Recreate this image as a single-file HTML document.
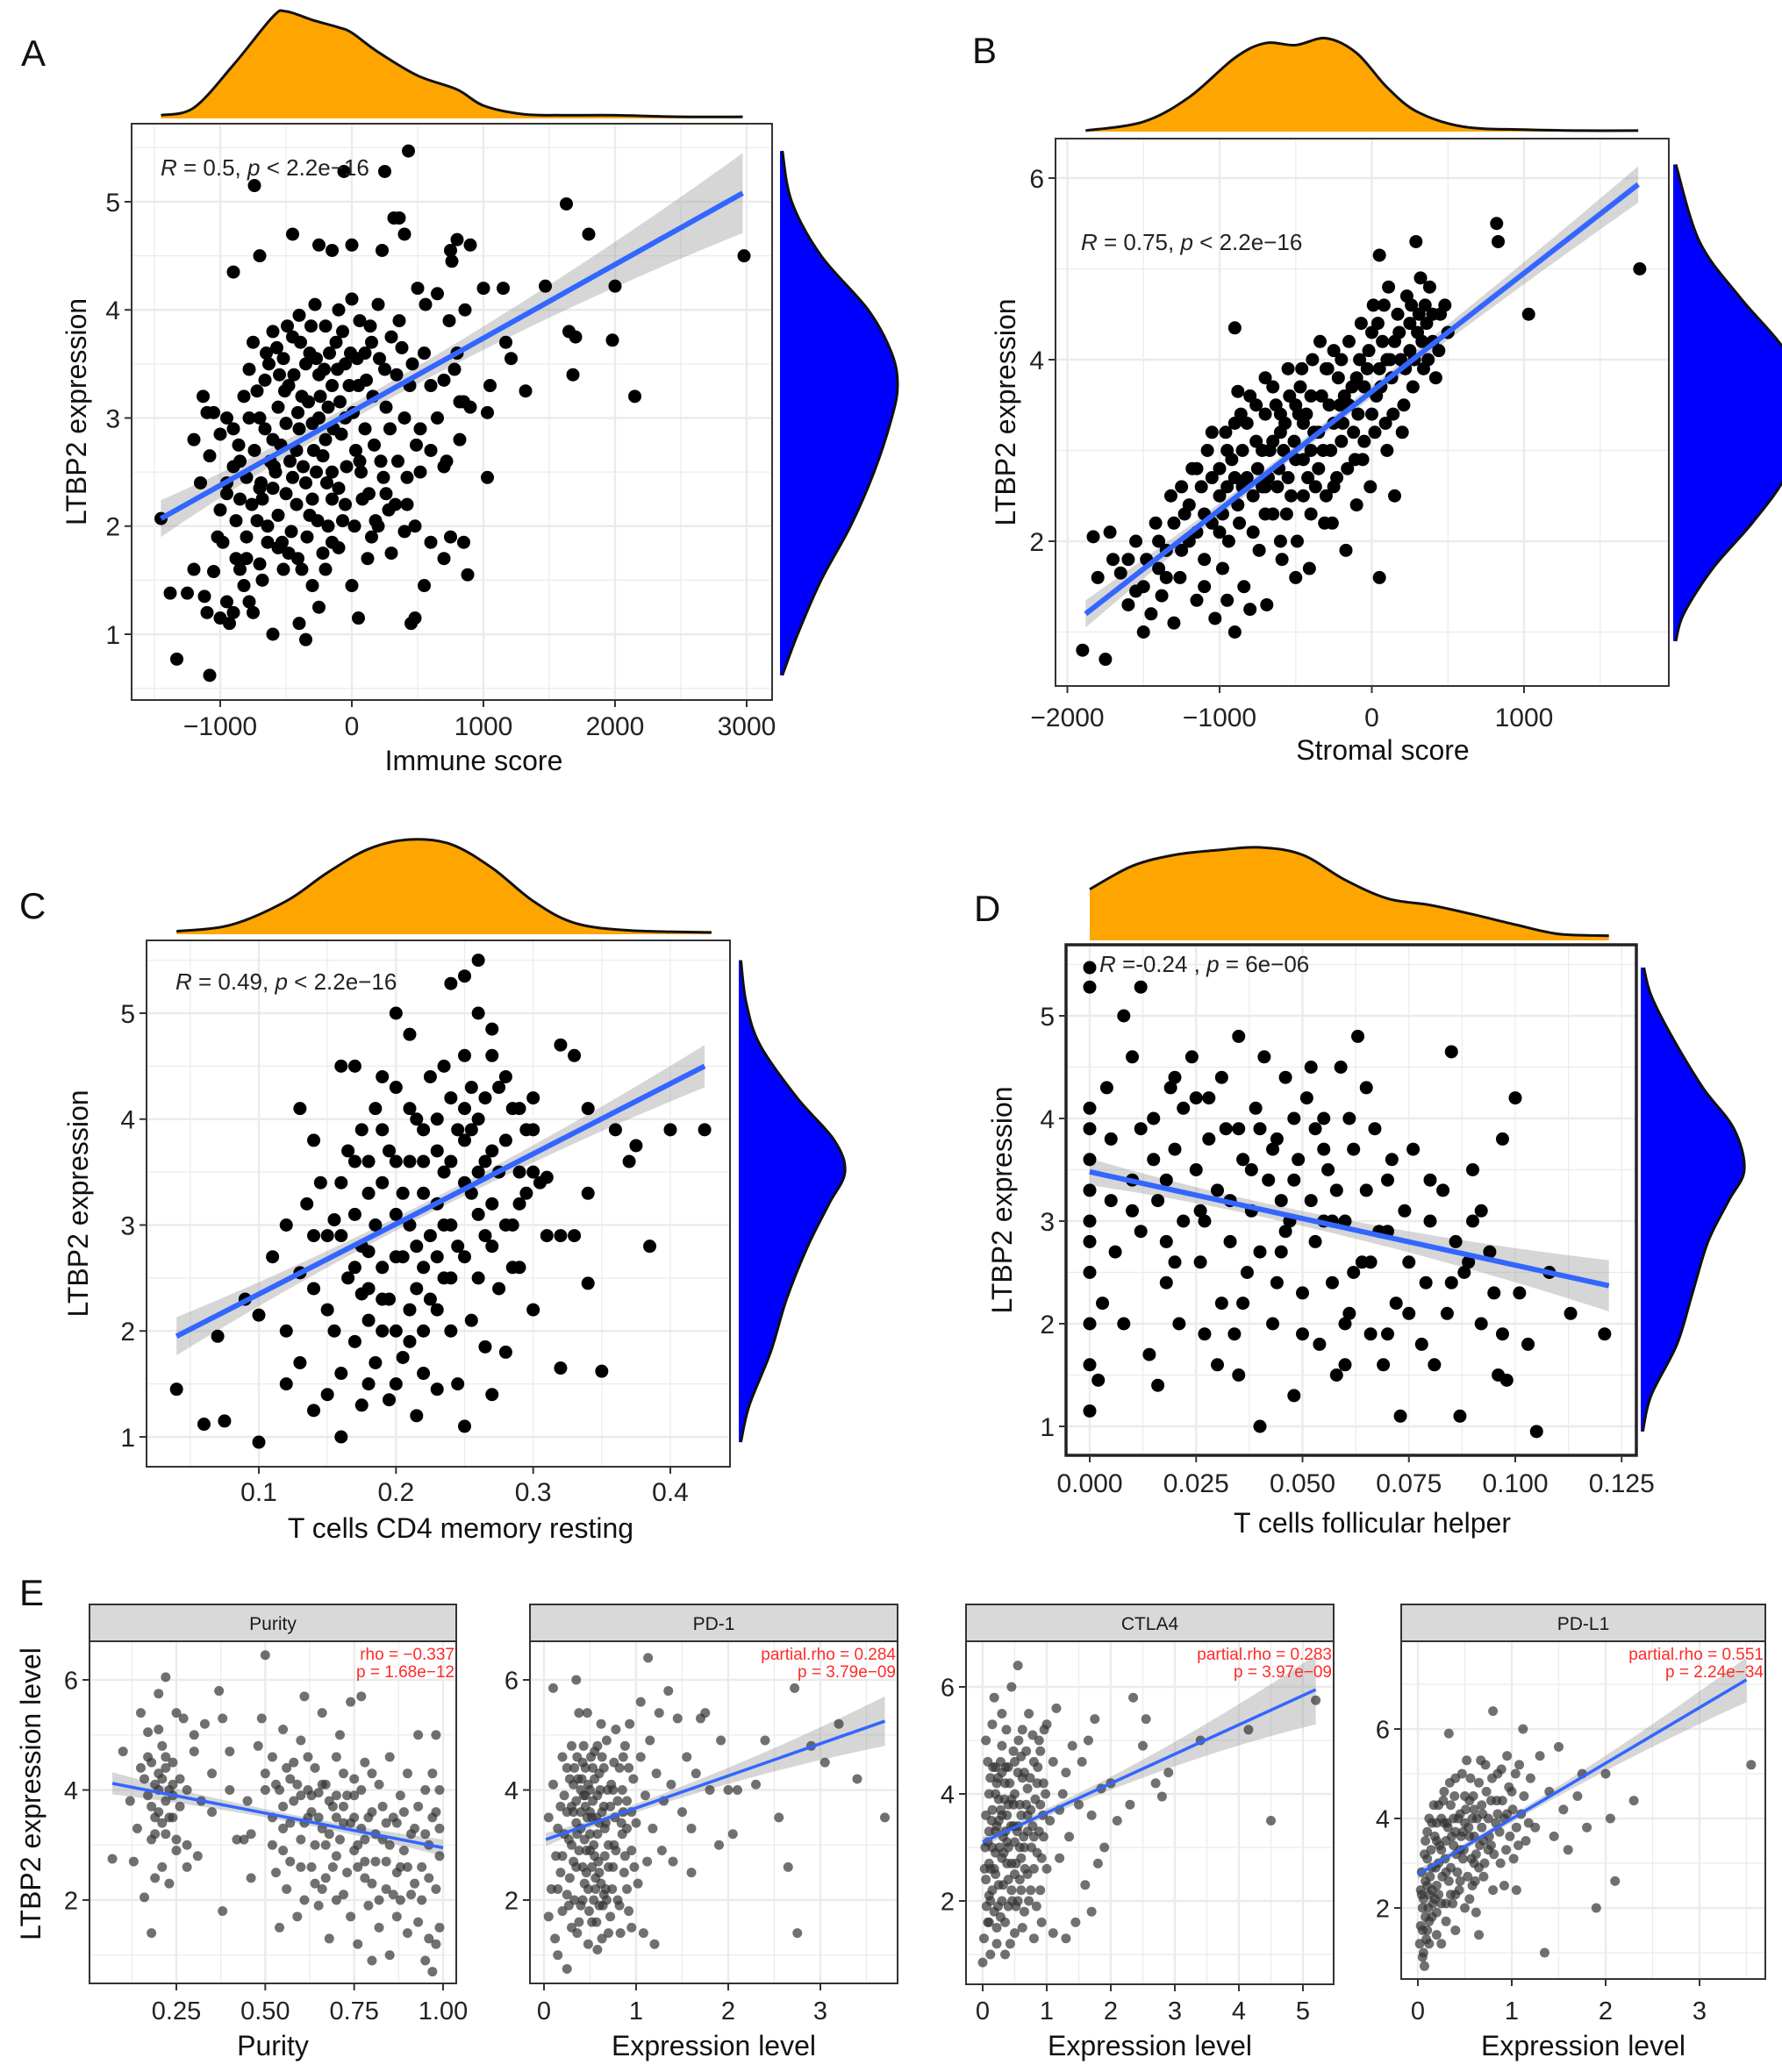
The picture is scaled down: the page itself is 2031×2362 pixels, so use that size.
<!DOCTYPE html>
<html><head><meta charset="utf-8"><title>LTBP2 correlations</title>
<style>html,body{margin:0;padding:0;background:#fff}svg{display:block}</style></head>
<body>
<svg id="fig" xmlns="http://www.w3.org/2000/svg" width="2031" height="2362" viewBox="0 0 2031 2362" font-family="Liberation Sans, Arial, sans-serif"></svg>
<script>
// ---------- DATA ----------
const ptsA=[[-1450,2.07],[-1330,0.77],[-1080,0.62],[-1380,1.38],[-1250,1.38],[-1100,1.2],[-1120,1.35],[-1000,1.15],[-1050,1.58],[-950,1.3],[-930,1.1],[-900,1.2],[-880,1.7],[-850,1.6],[-820,1.45],[-800,1.7],[-780,1.3],[-750,1.2],[-700,1.65],[-680,1.5],[-600,1.0],[-560,1.8],[-520,1.6],[-480,1.75],[-400,1.1],[-350,0.95],[-300,1.45],[-250,1.25],[-200,1.6],[-150,1.85],[-100,1.8],[0,1.45],[50,1.15],[150,1.9],[200,2.0],[300,1.75],[400,1.95],[450,1.1],[480,1.15],[550,1.45],[600,1.85],[700,1.7],[750,1.9],[850,1.85],[880,1.55],[-1200,2.8],[-1130,3.2],[-1100,3.05],[-1050,3.05],[-1000,2.85],[-1080,2.65],[-950,2.4],[-900,2.55],[-860,2.75],[-820,3.2],[-780,3.45],[-750,3.7],[-700,3.0],[-660,3.35],[-620,2.6],[-600,3.8],[-560,3.1],[-520,3.55],[-500,2.95],[-480,3.3],[-450,3.75],[-420,2.7],[-400,3.95],[-380,3.2],[-350,2.4],[-320,3.6],[-300,2.95],[-280,4.05],[-250,3.4],[-220,2.65],[-200,3.85],[-180,3.1],[-150,2.5],[-120,3.7],[-100,4.0],[-80,2.85],[-50,3.5],[-20,3.3],[0,4.1],[30,2.7],[60,3.9],[100,3.6],[130,2.3],[160,3.2],[200,4.05],[220,2.6],[250,3.45],[300,3.75],[330,2.2],[360,3.9],[400,3.0],[420,2.45],[460,3.5],[500,4.2],[520,2.9],[560,4.05],[600,3.3],[650,4.15],[700,3.35],[720,2.6],[760,4.45],[800,3.6],[820,2.8],[860,4.0],[900,3.1],[-900,4.35],[-700,4.5],[-450,4.7],[-250,4.6],[-150,4.55],[0,4.6],[230,4.55],[320,4.85],[360,4.85],[400,4.7],[750,4.55],[800,4.65],[900,4.6],[-740,5.15],[-60,5.28],[250,5.28],[430,5.47],[1000,4.2],[1030,2.45],[1030,3.05],[1050,3.3],[1150,4.2],[1170,3.7],[1210,3.55],[1320,3.25],[1470,4.22],[1630,4.98],[1650,3.8],[1680,3.4],[1700,3.75],[1800,4.7],[1980,3.72],[2000,4.22],[2150,3.2],[2980,4.5],[-1000,2.15],[-950,2.3],[-880,2.05],[-850,2.25],[-800,1.9],[-760,2.2],[-720,2.05],[-680,2.25],[-640,2.0],[-600,2.35],[-560,2.1],[-500,2.3],[-460,1.95],[-420,2.2],[-380,1.6],[-340,1.9],[-300,2.25],[-260,2.05],[-220,1.75],[-150,2.25],[-100,2.35],[-50,2.2],[20,2.0],[80,2.25],[120,1.7],[180,2.05],[240,2.45],[280,2.15],[350,2.6],[420,2.2],[480,2.0],[520,2.5],[550,3.6],[600,2.7],[650,3.0],[700,2.55],[740,3.9],[780,3.45],[820,3.15],[850,3.15],[-650,3.6],[-550,3.4],[-350,3.5],[-250,3.0],[-150,3.3],[-50,3.0],[50,3.3],[150,3.7],[-600,2.8],[-400,2.9],[-200,2.8],[100,2.9],
[-950,3.0],[-900,2.9],[-850,2.6],[-800,2.45],[-780,3.0],[-740,2.7],[-720,3.25],[-690,2.4],[-660,2.9],[-630,3.5],[-590,2.55],[-570,3.65],[-540,2.75],[-510,3.25],[-490,3.85],[-470,2.6],[-440,3.4],[-410,3.05],[-390,3.7],[-370,2.55],[-330,3.15],[-310,3.85],[-290,2.7],[-270,3.55],[-240,3.2],[-210,3.45],[-190,2.4],[-170,3.6],[-140,2.9],[-110,3.45],[-90,3.15],[-70,3.8],[-40,2.55],[-10,3.6],[10,3.05],[40,3.55],[70,2.5],[110,3.35],[140,3.85],[170,2.75],[210,3.55],[260,3.1],[290,2.9],[340,3.4],[380,3.65],[440,3.3],[490,2.75],[-700,2.35],[-640,1.85],[-580,2.5],[-530,1.85],[-450,2.45],[-410,1.7],[-320,2.1],[-270,2.5],[-180,2.0],[-70,2.05],[60,2.6],[260,2.3],[-980,1.85],[-1150,2.4],[-1200,1.6],[-1020,1.9]];
const ptsB=[[-1900,0.8],[-1750,0.7],[-1800,1.6],[-1830,2.05],[-1720,2.1],[-1650,1.65],[-1600,1.3],[-1550,1.45],[-1500,1.0],[-1480,1.8],[-1450,1.2],[-1420,2.2],[-1380,1.4],[-1350,1.9],[-1320,2.5],[-1300,1.1],[-1260,1.6],[-1230,2.3],[-1200,2.0],[-1180,2.8],[-1150,1.35],[-1120,2.6],[-1100,1.8],[-1080,3.0],[-1050,2.2],[-1030,1.15],[-1000,2.5],[-980,1.7],[-960,3.2],[-940,2.0],[-920,2.9],[-900,4.35],[-900,1.0],[-880,2.4],[-860,3.4],[-840,1.5],[-820,2.7],[-800,3.6],[-780,2.1],[-760,3.1],[-740,1.9],[-720,2.6],[-700,3.8],[-690,1.3],[-670,3.0],[-650,2.3],[-630,3.5],[-610,2.8],[-590,1.8],[-570,3.3],[-550,3.9],[-530,2.5],[-510,3.1],[-490,2.0],[-470,3.7],[-450,2.9],[-430,3.4],[-410,1.7],[-390,4.0],[-370,2.6],[-350,3.2],[-330,3.6],[-310,2.2],[-290,3.9],[-270,3.0],[-250,4.1],[-230,2.7],[-210,3.5],[-190,3.3],[-170,1.9],[-150,4.2],[-130,3.7],[-110,2.9],[-90,3.4],[-70,4.4],[-50,3.1],[-30,3.9],[-10,2.6],[10,4.6],[30,3.6],[50,5.15],[50,1.6],[70,4.2],[90,3.3],[110,4.8],[130,3.8],[150,2.5],[170,4.5],[190,4.0],[210,3.5],[230,4.7],[250,4.1],[270,3.7],[290,5.3],[300,4.3],[320,4.9],[340,3.9],[360,4.4],[380,4.8],[400,4.2],[420,3.8],[450,4.5],[480,4.6],[820,5.5],[830,5.3],[1030,4.5],[1760,5.0],[-1250,1.9],[-1150,2.1],[-1050,2.7],[-950,2.6],[-850,3.0],[-750,2.8],[-650,3.1],[-550,2.7],[-450,3.3],[-350,2.8],[-250,3.3],[-150,3.5],[-50,3.7],[50,3.9],[150,4.2],[250,4.4],[350,4.6],[-600,2.0],[-500,1.6],[-400,2.3],[-300,2.5],[-200,3.1],[-100,2.4],[0,3.4],[100,3.0],[200,3.2],[-1350,1.6],[-1100,1.5],[-950,1.35],[-800,1.25],[-700,2.3],[-500,3.5],[-300,3.9],[-200,4.0],[0,4.3],[-880,3.65],[-1400,1.7],[-1000,2.1],[-900,2.7],[-600,3.2],[-400,3.0],[-100,3.8],[100,4.0],[-700,2.6],[-450,2.5],[-250,2.6],
[-1700,1.8],[-1600,1.8],[-1550,2.0],[-1500,1.5],[-1400,2.0],[-1300,2.2],[-1250,2.6],[-1200,2.4],[-1150,2.8],[-1100,2.3],[-1050,3.2],[-1000,2.8],[-980,2.3],[-950,3.0],[-900,3.3],[-870,2.2],[-850,2.6],[-820,3.3],[-780,2.5],[-760,3.5],[-720,3.0],[-700,3.4],[-680,2.7],[-650,3.7],[-620,2.6],[-600,3.4],[-580,3.0],[-560,2.3],[-540,3.6],[-500,2.9],[-480,3.4],[-460,3.9],[-420,2.7],[-400,3.6],[-380,3.2],[-340,4.2],[-320,3.0],[-280,3.5],[-260,2.2],[-220,3.8],[-180,3.6],[-160,2.8],[-120,3.2],[-80,4.0],[-60,2.9],[-20,4.1],[20,3.2],[40,4.4],[60,3.7],[80,4.6],[120,4.0],[140,3.4],[180,4.3],[220,3.9],[260,4.6],[280,4.0],[310,4.5],[330,4.2],[370,4.0],[400,4.5],[440,4.1],[500,4.3]];
const ptsC=[[0.04,1.45],[0.06,1.12],[0.075,1.15],[0.1,0.95],[0.07,1.95],[0.09,2.3],[0.1,2.15],[0.12,1.5],[0.12,2.0],[0.13,1.7],[0.13,2.55],[0.14,1.25],[0.14,2.9],[0.145,3.4],[0.15,2.2],[0.15,1.4],[0.155,3.05],[0.16,1.6],[0.16,1.0],[0.165,2.5],[0.165,3.7],[0.17,1.9],[0.17,4.5],[0.175,2.8],[0.175,1.3],[0.18,3.3],[0.18,2.1],[0.185,4.1],[0.185,1.7],[0.19,2.6],[0.19,3.9],[0.195,2.3],[0.2,3.1],[0.2,1.5],[0.2,4.3],[0.205,2.7],[0.21,3.6],[0.21,1.9],[0.215,2.4],[0.215,4.0],[0.22,3.3],[0.22,2.0],[0.225,4.4],[0.225,2.9],[0.23,3.7],[0.23,1.45],[0.235,2.5],[0.235,3.5],[0.24,4.2],[0.24,3.0],[0.245,1.5],[0.245,3.9],[0.25,2.7],[0.25,4.6],[0.255,3.3],[0.255,2.1],[0.26,4.0],[0.26,5.0],[0.265,3.6],[0.265,2.9],[0.27,4.85],[0.27,3.2],[0.275,4.3],[0.275,2.4],[0.28,3.8],[0.28,1.8],[0.285,4.1],[0.285,3.0],[0.29,3.5],[0.29,2.6],[0.295,3.9],[0.3,3.5],[0.3,2.2],[0.305,3.4],[0.31,3.45],[0.32,4.7],[0.32,2.9],[0.32,1.65],[0.33,4.6],[0.33,2.9],[0.34,4.1],[0.34,3.3],[0.34,2.45],[0.35,1.62],[0.36,3.9],[0.37,3.6],[0.375,3.75],[0.385,2.8],[0.4,3.9],[0.425,3.9],[0.25,5.35],[0.26,5.5],[0.24,5.28],[0.2,5.0],[0.13,4.1],[0.16,4.5],[0.21,4.8],[0.11,2.7],[0.12,3.0],[0.135,3.2],[0.155,2.0],[0.175,2.35],[0.195,1.35],[0.205,1.75],[0.215,1.2],[0.23,2.2],[0.25,1.1],[0.27,1.4],[0.22,3.9],[0.19,3.4],[0.18,2.75],[0.235,4.5],[0.255,4.3],[0.28,3.0],[0.265,1.85],[0.3,4.2],[0.14,3.8],[0.17,3.1],[0.2,3.6],[0.21,3.0],[0.23,3.2],[0.25,3.8],[0.26,3.5],[0.22,2.6],[0.19,2.0],[0.24,2.5],[0.27,3.7],[0.29,3.2],[0.18,3.6],[0.16,2.9],
[0.14,2.4],[0.15,2.9],[0.16,3.4],[0.17,2.6],[0.175,3.9],[0.18,2.4],[0.185,3.0],[0.19,2.3],[0.195,3.7],[0.2,2.7],[0.205,3.3],[0.21,4.1],[0.215,2.8],[0.22,3.6],[0.225,2.3],[0.23,4.0],[0.235,3.0],[0.24,3.6],[0.245,2.8],[0.25,3.4],[0.255,3.9],[0.26,2.5],[0.265,4.2],[0.27,2.8],[0.275,3.5],[0.28,4.4],[0.285,2.6],[0.29,4.1],[0.295,3.3],[0.3,3.9],[0.31,2.9],[0.2,2.0],[0.22,1.6],[0.18,1.5],[0.24,2.0],[0.26,3.1],[0.23,2.7],[0.21,2.2],[0.25,4.1],[0.27,4.6],[0.19,4.4],[0.17,3.6]];
const ptsD=[[0,5.47],[0,5.28],[0.012,5.28],[0.008,5.0],[0,4.1],[0,3.9],[0,3.6],[0,3.3],[0,3.0],[0,2.8],[0,2.5],[0,2.0],[0,1.6],[0,1.15],[0.002,1.45],[0.004,4.3],[0.005,3.8],[0.006,2.7],[0.008,2.0],[0.01,4.6],[0.01,3.4],[0.012,2.9],[0.014,1.7],[0.015,4.0],[0.016,3.2],[0.018,2.4],[0.019,4.3],[0.02,3.7],[0.021,2.0],[0.022,3.0],[0.024,4.6],[0.025,3.5],[0.026,2.6],[0.027,1.9],[0.028,4.2],[0.03,3.3],[0.031,2.2],[0.032,3.9],[0.033,2.8],[0.034,1.9],[0.035,4.8],[0.036,3.6],[0.037,2.5],[0.038,3.1],[0.039,4.1],[0.04,1.0],[0.041,4.6],[0.042,3.4],[0.043,2.0],[0.044,3.8],[0.045,2.7],[0.046,4.4],[0.047,3.0],[0.048,1.3],[0.049,3.6],[0.05,2.3],[0.051,4.2],[0.052,3.2],[0.053,2.8],[0.054,1.8],[0.055,4.0],[0.056,3.5],[0.057,2.4],[0.058,1.5],[0.059,4.5],[0.06,3.0],[0.061,2.1],[0.062,3.7],[0.063,4.8],[0.064,2.6],[0.065,3.3],[0.066,1.9],[0.067,3.9],[0.068,2.9],[0.069,1.6],[0.07,3.4],[0.072,2.2],[0.073,1.1],[0.074,3.1],[0.075,2.6],[0.076,3.7],[0.078,1.8],[0.079,2.4],[0.08,3.0],[0.081,1.6],[0.083,3.3],[0.084,2.1],[0.085,4.65],[0.086,2.8],[0.087,1.1],[0.088,2.5],[0.09,3.0],[0.092,2.0],[0.094,2.7],[0.096,1.5],[0.097,1.9],[0.098,1.45],[0.1,4.2],[0.101,2.3],[0.103,1.8],[0.105,0.95],[0.108,2.5],[0.113,2.1],[0.121,1.9],[0.097,3.8],[0.092,3.1],[0.089,2.6],[0.015,3.6],[0.025,4.2],[0.035,3.9],[0.045,3.2],[0.055,3.7],[0.065,4.3],[0.02,2.6],[0.03,1.6],[0.05,1.9],[0.06,1.6],[0.07,2.9],[0.04,2.7],[0.01,3.1],[0.028,3.8],[0.038,3.5],[0.048,4.0],[0.058,3.3],[0.018,3.4],[0.033,3.2],[0.043,3.7],[0.053,3.9],
[0.005,3.2],[0.012,3.9],[0.018,2.8],[0.022,4.1],[0.027,3.0],[0.031,4.4],[0.036,2.2],[0.04,3.9],[0.044,2.4],[0.048,3.4],[0.052,4.5],[0.057,3.0],[0.061,4.0],[0.066,2.6],[0.071,3.6],[0.075,2.1],[0.08,3.4],[0.085,2.4],[0.09,3.5],[0.095,2.3],[0.003,2.2],[0.016,1.4],[0.026,3.1],[0.046,2.9],[0.06,2.0],[0.07,1.9],[0.035,1.5],[0.055,3.0],[0.02,4.4],[0.062,2.5]];
const ptsE1=[[0.07,2.75],[0.1,4.7],[0.12,3.8],[0.13,2.7],[0.14,3.3],[0.15,5.4],[0.16,4.2],[0.16,2.05],[0.17,3.9],[0.17,5.05],[0.18,4.5],[0.18,3.1],[0.18,1.4],[0.19,2.4],[0.19,4.1],[0.2,5.1],[0.2,3.6],[0.2,5.75],[0.21,4.8],[0.21,2.6],[0.22,4.4],[0.22,3.2],[0.22,6.05],[0.23,4.0],[0.23,2.3],[0.24,3.5],[0.24,4.5],[0.25,5.4],[0.25,2.9],[0.26,3.7],[0.27,5.3],[0.28,3.0],[0.28,2.6],[0.3,4.7],[0.3,5.0],[0.31,2.8],[0.33,5.2],[0.35,4.3],[0.35,3.6],[0.37,5.8],[0.38,5.3],[0.38,1.8],[0.4,4.0],[0.4,4.7],[0.42,3.1],[0.44,3.1],[0.45,3.8],[0.46,2.4],[0.48,4.8],[0.49,5.3],[0.5,6.45],[0.5,4.0],[0.52,3.5],[0.52,4.6],[0.53,2.5],[0.54,1.5],[0.55,3.3],[0.55,5.1],[0.56,2.2],[0.57,4.2],[0.57,2.7],[0.58,3.8],[0.59,1.7],[0.6,4.9],[0.6,3.1],[0.61,5.7],[0.61,2.0],[0.62,4.0],[0.63,2.6],[0.63,3.6],[0.64,4.4],[0.65,1.9],[0.66,5.4],[0.66,3.3],[0.67,2.4],[0.67,4.1],[0.68,1.3],[0.69,3.7],[0.7,4.6],[0.7,2.8],[0.71,5.0],[0.72,2.1],[0.72,3.4],[0.73,3.9],[0.74,1.7],[0.74,5.6],[0.75,2.9],[0.75,4.2],[0.76,1.2],[0.77,3.3],[0.77,5.7],[0.78,2.4],[0.78,4.5],[0.79,1.9],[0.8,3.6],[0.8,0.9],[0.81,2.7],[0.82,4.1],[0.82,1.5],[0.83,3.1],[0.84,2.2],[0.85,4.6],[0.85,1.0],[0.86,3.5],[0.87,2.5],[0.87,1.7],[0.88,3.9],[0.89,2.9],[0.9,4.3],[0.9,1.4],[0.91,2.1],[0.92,3.3],[0.93,5.0],[0.93,1.6],[0.94,2.6],[0.95,4.0],[0.95,0.9],[0.96,3.0],[0.96,1.3],[0.97,0.7],[0.97,4.3],[0.98,2.2],[0.98,3.6],[0.98,5.0],[0.99,1.5],[0.99,2.8],[0.99,4.0],[0.6,3.9],[0.65,3.95],[0.55,3.7],[0.7,3.5],[0.62,3.5],[0.68,3.2],[0.75,3.5],[0.58,4.5],[0.64,3.0],[0.72,4.3],[0.8,2.3],[0.84,3.4],[0.5,4.3],[0.46,3.2],[0.2,4.3],[0.22,3.8],[0.24,4.1],[0.19,3.5],[0.66,2.2],[0.7,2.0],[0.76,2.6],[0.88,2.0],[0.53,4.1],[0.78,3.1],
[0.15,4.4],[0.17,4.6],[0.18,3.7],[0.2,4.0],[0.21,4.2],[0.22,4.6],[0.23,3.5],[0.24,3.9],[0.26,4.2],[0.19,3.2],[0.21,3.4],[0.25,3.1],[0.28,4.0],[0.32,3.8],[0.52,3.0],[0.54,4.0],[0.56,4.4],[0.57,3.4],[0.59,4.1],[0.6,2.6],[0.61,3.4],[0.62,4.6],[0.63,3.9],[0.64,2.3],[0.65,3.5],[0.66,4.1],[0.67,3.0],[0.68,3.8],[0.69,2.6],[0.7,3.9],[0.71,3.1],[0.72,3.7],[0.73,2.5],[0.74,3.4],[0.75,3.9],[0.76,3.0],[0.77,4.0],[0.78,2.7],[0.79,3.5],[0.8,4.3],[0.81,3.2],[0.82,2.0],[0.83,3.7],[0.84,2.7],[0.85,3.0],[0.86,2.1],[0.87,3.4],[0.88,2.6],[0.89,3.6],[0.9,2.6],[0.91,3.2],[0.92,2.3],[0.93,3.7],[0.94,2.0],[0.95,3.2],[0.96,2.4],[0.97,3.5],[0.98,1.2],[0.99,3.3],[0.55,2.9]];
const ptsE2=[[0.05,1.7],[0.05,3.5],[0.08,2.2],[0.1,5.85],[0.1,4.1],[0.12,1.3],[0.13,2.8],[0.15,1.0],[0.15,3.3],[0.18,2.5],[0.2,4.6],[0.2,1.8],[0.22,3.9],[0.25,0.75],[0.25,2.1],[0.27,3.1],[0.3,4.8],[0.3,1.5],[0.32,3.6],[0.35,6.0],[0.35,2.6],[0.37,4.2],[0.38,5.4],[0.4,1.9],[0.4,3.3],[0.42,4.5],[0.44,2.3],[0.45,3.9],[0.47,5.4],[0.48,1.2],[0.5,2.9],[0.5,4.0],[0.52,3.5],[0.54,2.0],[0.55,4.7],[0.57,1.6],[0.58,3.2],[0.6,2.5],[0.6,4.3],[0.62,5.2],[0.63,1.3],[0.65,3.7],[0.67,2.2],[0.68,4.9],[0.7,3.0],[0.72,1.7],[0.73,4.1],[0.75,2.6],[0.77,3.5],[0.78,5.1],[0.8,2.0],[0.82,4.4],[0.83,1.4],[0.85,3.2],[0.87,2.5],[0.88,4.8],[0.9,3.8],[0.92,1.8],[0.93,5.2],[0.95,2.9],[0.97,4.2],[1.0,3.4],[1.02,2.3],[1.05,4.6],[1.05,5.6],[1.08,1.4],[1.1,3.9],[1.12,2.7],[1.15,4.9],[1.18,3.3],[1.2,1.2],[1.22,4.3],[1.25,5.4],[1.28,2.9],[1.3,3.8],[1.35,5.8],[1.38,4.1],[1.4,2.7],[1.45,5.3],[1.5,3.6],[1.55,4.6],[1.6,2.5],[1.6,3.3],[1.65,4.3],[1.7,5.3],[1.75,5.4],[1.8,4.0],[1.9,3.0],[1.92,4.9],[2.0,4.0],[2.05,3.2],[2.1,4.0],[2.3,4.1],[2.4,4.9],[2.55,3.5],[2.65,2.6],[2.72,5.85],[2.75,1.4],[2.9,4.8],[3.05,4.5],[3.2,5.2],[3.4,4.2],[3.7,3.5],[1.13,6.4],[0.4,4.0],[0.45,3.7],[0.35,3.8],[0.5,3.6],[0.55,2.8],[0.65,2.1],[0.3,3.0],[0.25,3.6],[0.6,1.9],[0.7,1.4],[0.75,4.0],[0.85,4.0],[0.9,2.2],[0.95,1.5],[0.42,2.6],[0.48,2.2],[0.58,3.9],[0.2,2.8],[0.28,4.2],[0.38,1.6],[0.33,4.4],[0.43,4.8],[0.53,4.4],[0.63,4.6],[0.36,3.2],[0.46,2.9],[0.56,2.4],[0.66,3.3],[0.76,3.0],[0.86,3.6],
[0.22,3.2],[0.25,4.4],[0.28,2.4],[0.3,3.7],[0.32,4.1],[0.33,2.0],[0.35,3.4],[0.36,4.6],[0.38,2.9],[0.4,3.6],[0.41,4.2],[0.42,2.0],[0.43,3.9],[0.44,3.1],[0.45,4.4],[0.46,2.5],[0.47,3.5],[0.48,4.1],[0.49,1.8],[0.5,3.2],[0.51,4.6],[0.52,2.6],[0.53,3.8],[0.54,3.0],[0.55,4.2],[0.56,2.2],[0.57,3.5],[0.58,4.8],[0.59,2.7],[0.6,3.4],[0.61,4.0],[0.62,2.3],[0.63,3.6],[0.64,1.9],[0.65,4.4],[0.66,2.8],[0.67,3.4],[0.68,2.0],[0.69,4.0],[0.7,2.6],[0.72,3.7],[0.74,2.2],[0.76,4.5],[0.78,2.9],[0.8,3.8],[0.82,1.9],[0.84,3.4],[0.86,4.6],[0.88,2.8],[0.9,3.3],[0.92,4.4],[0.95,3.6],[0.98,2.6],[0.32,2.7],[0.36,1.4],[0.52,1.6],[0.58,1.1],[0.27,1.9],[0.18,3.7],[0.15,2.2]];
const ptsE3=[[0.0,0.85],[0.02,1.3],[0.03,2.6],[0.05,3.6],[0.05,5.0],[0.08,1.6],[0.1,2.1],[0.12,4.3],[0.12,1.0],[0.15,3.0],[0.18,5.8],[0.2,2.5],[0.2,4.0],[0.22,1.5],[0.25,3.5],[0.28,4.6],[0.3,2.0],[0.3,5.5],[0.32,3.2],[0.35,1.0],[0.35,4.2],[0.38,2.7],[0.4,3.8],[0.45,6.0],[0.45,2.2],[0.48,4.8],[0.5,3.1],[0.5,1.4],[0.55,4.4],[0.55,6.4],[0.58,2.4],[0.6,3.6],[0.62,5.2],[0.65,1.8],[0.65,3.0],[0.7,4.1],[0.72,5.5],[0.75,2.2],[0.78,3.4],[0.8,1.3],[0.8,4.6],[0.85,2.9],[0.88,5.0],[0.9,3.8],[0.92,1.6],[0.95,4.2],[1.0,2.6],[1.0,5.3],[1.05,3.5],[1.1,1.4],[1.1,4.6],[1.15,5.6],[1.2,2.8],[1.25,4.0],[1.3,1.3],[1.35,3.2],[1.4,4.9],[1.45,1.6],[1.5,3.8],[1.55,4.6],[1.6,2.3],[1.65,5.0],[1.7,1.8],[1.7,3.6],[1.75,5.4],[1.8,2.7],[1.85,4.1],[1.9,3.0],[2.0,4.2],[2.1,3.5],[2.3,3.8],[2.35,5.8],[2.5,4.9],[2.55,5.4],[2.7,4.2],[2.8,3.95],[2.9,4.4],[3.4,5.0],[4.15,5.2],[4.5,3.5],[5.2,5.75],[0.3,3.6],[0.35,3.3],[0.4,3.0],[0.45,3.9],[0.25,3.9],[0.3,4.4],[0.5,4.0],[0.55,3.4],[0.6,2.8],[0.2,2.9],[0.15,2.2],[0.4,1.9],[0.7,2.5],[0.1,3.3],[0.65,4.4],[0.75,3.7],[0.85,4.2],[0.9,2.2],[0.45,2.7],[0.55,2.0],[0.35,1.6],[0.25,2.3],[0.8,3.2],[1.2,3.7],[1.3,4.4],[0.95,3.2],[0.15,3.7],[0.2,4.5],[0.3,2.8],[0.4,4.5],[0.5,2.5],[0.6,4.7],[0.7,3.3],[0.12,2.6],[0.22,3.4],[0.38,3.6],[0.48,3.4],[0.58,3.0],[0.68,3.8],[0.1,1.6],[0.18,1.8],
[0.05,2.4],[0.08,3.1],[0.1,4.0],[0.12,2.0],[0.14,3.5],[0.16,4.5],[0.18,2.6],[0.2,3.3],[0.22,4.2],[0.24,1.9],[0.26,3.0],[0.28,3.7],[0.3,4.9],[0.32,2.3],[0.34,3.9],[0.36,4.5],[0.38,3.1],[0.4,2.4],[0.42,4.2],[0.44,3.4],[0.46,2.0],[0.48,3.8],[0.5,4.6],[0.52,2.7],[0.54,3.3],[0.56,5.0],[0.58,3.8],[0.6,2.2],[0.62,4.3],[0.64,3.2],[0.66,2.6],[0.68,4.8],[0.7,3.6],[0.72,2.0],[0.74,4.3],[0.76,3.0],[0.78,5.1],[0.8,2.6],[0.82,3.9],[0.84,1.9],[0.86,4.5],[0.88,3.3],[0.9,4.8],[0.92,2.8],[0.94,3.6],[0.96,5.2],[0.98,4.0],[0.08,4.6],[0.15,5.3],[0.22,1.2],[0.28,1.7],[0.33,2.9],[0.43,1.2],[0.52,1.9],[0.62,1.5],[0.06,1.9],[0.04,3.0],[0.1,2.7],[0.24,4.3],[0.37,5.2]];
const ptsE4=[[0.02,1.2],[0.05,0.9],[0.05,2.0],[0.07,0.7],[0.08,2.6],[0.08,3.5],[0.1,1.5],[0.1,3.1],[0.12,2.3],[0.12,4.0],[0.15,1.8],[0.15,2.9],[0.18,3.6],[0.2,1.4],[0.2,2.5],[0.22,4.3],[0.25,2.1],[0.25,3.3],[0.28,4.6],[0.3,1.7],[0.3,2.8],[0.32,3.8],[0.33,5.9],[0.35,2.3],[0.38,3.4],[0.4,4.9],[0.4,1.5],[0.42,2.8],[0.45,4.1],[0.48,3.1],[0.5,2.0],[0.5,4.5],[0.52,5.3],[0.55,3.6],[0.58,2.5],[0.6,4.2],[0.62,1.9],[0.62,3.2],[0.65,4.8],[0.65,1.4],[0.68,3.8],[0.7,2.7],[0.72,5.2],[0.75,3.3],[0.78,4.4],[0.8,6.4],[0.8,2.4],[0.83,3.9],[0.85,5.0],[0.88,3.0],[0.9,4.4],[0.92,2.5],[0.95,5.4],[0.98,3.6],[1.0,4.6],[1.02,3.1],[1.05,2.4],[1.08,5.2],[1.1,4.1],[1.12,6.0],[1.15,3.5],[1.2,4.9],[1.25,3.8],[1.3,5.4],[1.35,1.0],[1.4,4.6],[1.45,3.6],[1.5,5.6],[1.55,4.2],[1.6,3.3],[1.7,4.5],[1.75,5.0],[1.8,3.8],[1.9,2.0],[2.0,5.0],[2.05,4.0],[2.1,2.6],[2.3,4.4],[3.55,5.2],[0.15,3.9],[0.2,3.5],[0.25,4.0],[0.3,3.5],[0.35,4.3],[0.4,3.7],[0.45,3.3],[0.5,3.9],[0.55,4.4],[0.6,3.6],[0.7,3.5],[0.75,4.0],[0.85,4.1],[0.3,2.1],[0.18,2.2],[0.1,2.5],[0.45,2.6],[0.55,2.2],[0.65,2.9],[0.35,2.9],[0.08,1.8],[0.25,1.2],[0.95,4.1],[1.05,3.8],[0.05,1.5],[0.12,1.2],[0.15,2.4],[0.22,3.0],[0.28,3.9],[0.38,4.0],[0.48,3.7],[0.58,4.0],[0.68,4.3],[0.03,2.4],[0.2,1.9],[0.4,2.3],[0.6,3.0],[0.78,3.4],
[0.03,1.6],[0.04,2.8],[0.06,2.2],[0.07,3.2],[0.09,1.3],[0.1,3.7],[0.11,2.0],[0.13,2.7],[0.14,3.3],[0.16,2.1],[0.17,4.3],[0.19,2.9],[0.2,3.9],[0.22,2.3],[0.23,3.4],[0.26,2.7],[0.27,4.4],[0.29,3.1],[0.31,3.9],[0.33,2.6],[0.34,4.8],[0.36,3.6],[0.37,2.1],[0.39,4.5],[0.41,3.2],[0.43,4.0],[0.44,2.4],[0.46,3.6],[0.47,5.0],[0.49,3.3],[0.51,4.2],[0.53,2.7],[0.54,3.8],[0.56,4.9],[0.57,3.1],[0.59,4.5],[0.61,2.6],[0.63,4.0],[0.66,3.4],[0.67,5.3],[0.69,4.1],[0.71,3.0],[0.73,4.6],[0.76,3.6],[0.79,4.9],[0.81,3.2],[0.84,4.4],[0.87,3.7],[0.89,5.1],[0.92,4.0],[0.94,3.3],[0.97,4.7],[1.01,4.2],[1.04,5.0],[1.07,3.4],[1.13,4.5],[1.18,3.9],[0.06,1.0],[0.12,1.7],[0.04,2.3]];
// marginal densities: sample positions and relative heights
const denAtopX=[-1450,-1200,-900,-600,-500,-300,-100,0,200,500,800,1000,1300,1600,2000,2500,2970];
const denAtopH=[0.03,0.1,0.5,0.95,1.0,0.92,0.85,0.8,0.62,0.4,0.27,0.12,0.04,0.03,0.03,0.015,0.015];
const denAsideY=[0.62,1,1.5,2,2.5,3,3.3,3.6,4,4.5,5,5.47];
const denAsideW=[0.02,0.15,0.35,0.6,0.8,0.95,1.0,0.95,0.75,0.35,0.1,0.02];
const denBtopX=[-1880,-1500,-1200,-900,-700,-500,-300,-100,100,300,600,1000,1400,1750];
const denBtopH=[0.01,0.1,0.35,0.75,0.9,0.88,0.95,0.8,0.45,0.2,0.05,0.02,0.01,0.01];
const denBsideY=[0.9,1.2,1.7,2.2,2.7,3.2,3.5,3.8,4.2,4.7,5.3,6.15];
const denBsideW=[0.02,0.08,0.3,0.6,0.85,0.97,1.0,0.98,0.8,0.5,0.2,0.02];
const denCtopX=[0.04,0.08,0.12,0.15,0.18,0.21,0.24,0.27,0.3,0.33,0.37,0.43];
const denCtopH=[0.03,0.1,0.35,0.65,0.9,1.0,0.95,0.7,0.35,0.12,0.04,0.02];
const denCsideY=[0.95,1.3,1.8,2.3,2.8,3.2,3.5,3.8,4.2,4.7,5.1,5.5];
const denCsideW=[0.02,0.1,0.3,0.45,0.65,0.85,1.0,0.9,0.55,0.2,0.07,0.02];
const denDtopX=[0,0.01,0.02,0.03,0.04,0.05,0.06,0.07,0.08,0.09,0.1,0.11,0.122];
const denDtopH=[0.55,0.8,0.92,0.97,1.0,0.92,0.65,0.45,0.38,0.28,0.17,0.07,0.05];
const denDsideY=[0.95,1.3,1.8,2.3,2.8,3.2,3.5,3.9,4.3,4.8,5.2,5.47];
const denDsideW=[0.02,0.1,0.35,0.5,0.65,0.85,1.0,0.9,0.6,0.3,0.1,0.03];
// regression fits [x0,y0,x1,y1] and band half-widths [xm, hwMid, hwLeft, hwRight]
const fitA=[-1450,2.07,2970,5.08], bandA=[-100,0.07,0.17,0.37];
const fitB=[-1880,1.2,1750,5.93], bandB=[-500,0.06,0.15,0.2];
const fitC=[0.04,1.95,0.425,4.5], bandC=[0.22,0.06,0.18,0.2];
const fitD=[0,3.48,0.122,2.37], bandD=[0.04,0.07,0.13,0.25];
const fitE1=[0.07,4.12,1.0,2.95], bandE1=[0.6,0.07,0.2,0.15];
const fitE2=[0.02,3.1,3.7,5.25], bandE2=[0.6,0.07,0.12,0.45];
const fitE3=[0,3.1,5.2,5.95], bandE3=[0.6,0.07,0.1,0.65];
const fitE4=[0,2.75,3.5,7.1], bandE4=[0.6,0.07,0.12,0.5];
// tick labels
const ticksAx=[-1000,0,1000,2000,3000], ticksAy=[1,2,3,4,5];
const ticksBx=[-2000,-1000,0,1000], ticksBy=[2,4,6];
const ticksCx=[0.1,0.2,0.3,0.4], ticksCy=[1,2,3,4,5];
const ticksDx=[0,0.025,0.05,0.075,0.1,0.125], ticksDy=[1,2,3,4,5];
const ticksE1x=[0.25,0.5,0.75,1.0], ticksE2x=[0,1,2,3], ticksE3x=[0,1,2,3,4,5], ticksE4x=[0,1,2,3], ticksEy=[2,4,6];

// ---------- DRAW ----------
const NS='http://www.w3.org/2000/svg';
const svg=document.getElementById('fig');
function mk(tag,attrs,parent){const e=document.createElementNS(NS,tag);for(const k in attrs)e.setAttribute(k,attrs[k]);(parent||svg).appendChild(e);return e;}
function lin(v1,p1,v2,p2){return v=>p1+(v-v1)*(p2-p1)/(v2-v1);}
function smooth(pts){let d='M'+pts[0][0]+','+pts[0][1];for(let i=0;i<pts.length-1;i++){const p0=pts[Math.max(0,i-1)],p1=pts[i],p2=pts[i+1],p3=pts[Math.min(pts.length-1,i+2)];const c1=[p1[0]+(p2[0]-p0[0])/6,p1[1]+(p2[1]-p0[1])/6],c2=[p2[0]-(p3[0]-p1[0])/6,p2[1]-(p3[1]-p1[1])/6];d+=' C'+c1[0]+','+c1[1]+' '+c2[0]+','+c2[1]+' '+p2[0]+','+p2[1];}return d;}
function fmt(v,dec){return v<0?'\u2212'+Math.abs(v).toFixed(dec):v.toFixed(dec);}

function panel(c){
  const g=mk('g',{});
  
  
  const sx=lin(c.xs[0],c.xs[1],c.xs[2],c.xs[3]), sy=lin(c.ys[0],c.ys[1],c.ys[2],c.ys[3]);
  const [L,T,R,B]=c.box;
  const clipId='clip-'+c.name;
  const cp=mk('clipPath',{id:clipId},g);mk('rect',{x:L,y:T,width:R-L,height:B-T},cp);
  mk('rect',{x:L,y:T,width:R-L,height:B-T,fill:'#fff'},g);
  const grid=mk('g',{'clip-path':`url(#${clipId})`},g);
  
  
  const dx=c.xt[1]-c.xt[0], dy=c.yt[1]-c.yt[0];
  for(let v=c.xt[0]-dx;v<=c.xt[c.xt.length-1]+dx*1.01;v+=dx/2){const x=sx(v);const major=Math.abs(((v-c.xt[0])/dx)%1)<1e-6;mk('line',{x1:x,x2:x,y1:T,y2:B,stroke:'#ebebeb','stroke-width':major?2.4:1.2},grid);}
  for(let v=c.yt[0]-dy;v<=c.yt[c.yt.length-1]+dy*1.01;v+=dy/2){const y=sy(v);const major=Math.abs(((v-c.yt[0])/dy)%1)<1e-6;mk('line',{y1:y,y2:y,x1:L,x2:R,stroke:'#ebebeb','stroke-width':major?2.4:1.2},grid);}
  const [x0,y0,x1,y1]=c.fit,[xm,h0,hL,hR]=c.band;
  const f=x=>y0+(y1-y0)*(x-x0)/(x1-x0);
  const hw=x=>x<xm?h0+(hL-h0)*((x-xm)/(x0-xm))**2:h0+(hR-h0)*((x-xm)/(x1-xm))**2;
  const up=[],lo=[];for(let i=0;i<=30;i++){const x=x0+(x1-x0)*i/30;up.push(sx(x)+','+sy(f(x)+hw(x)));lo.unshift(sx(x)+','+sy(f(x)-hw(x)));}
  const band=mk('polygon',{points:up.concat(lo).join(' '),fill:'#999','fill-opacity':0.4,'clip-path':`url(#${clipId})`},g);
  
  
  const pg=mk('g',{'clip-path':`url(#${clipId})`},g);
  
  
  for(const p of c.pts){const d=mk('circle',{cx:sx(p[0]),cy:sy(p[1]),r:c.r,fill:c.ptCol,'fill-opacity':c.ptOp},pg);
    
    }
  const ln=mk('line',{x1:sx(x0),y1:sy(y0),x2:sx(x1),y2:sy(y1),stroke:'#3366ff','stroke-width':c.lw},g);
  
  
  mk('rect',{x:L,y:T,width:R-L,height:B-T,fill:'none',stroke:c.border||'#333','stroke-width':c.bw||2},g);
  for(const v of c.xt){const x=sx(v);mk('line',{x1:x,x2:x,y1:B,y2:B+8,stroke:'#333','stroke-width':2},g);
    const t=mk('text',{x:x,y:c.xtlY,'text-anchor':'middle','font-size':c.tfs,fill:'#222'},g);t.textContent=c.xfmt(v);
    
    }
  for(const v of c.yt){const y=sy(v);mk('line',{x1:L-8,x2:L,y1:y,y2:y,stroke:'#333','stroke-width':2},g);
    const t=mk('text',{x:L-13,y:y+c.tfs*0.36,'text-anchor':'end','font-size':c.tfs,fill:'#222'},g);t.textContent=String(v);
    
    }
  const xt=mk('text',{x:c.xtitle[1],y:c.xtitle[2],'text-anchor':'middle','font-size':c.tt,fill:'#111'},g);xt.textContent=c.xtitle[0];
  
  
  if(c.ytitle){const yt=mk('text',{x:0,y:0,'text-anchor':'middle','font-size':c.tt,fill:'#111',transform:`translate(${c.ytitle[1]},${(T+B)/2}) rotate(-90)`},g);yt.textContent=c.ytitle[0];
    
    }
  if(c.top){const [xs,hs,base,hmax]=c.top;const pts=xs.map((x,i)=>[sx(x),base-hs[i]*hmax]);
    const d=smooth(pts);
    const fillP=mk('path',{d:d+` L${pts[pts.length-1][0]},${base} L${pts[0][0]},${base} Z`,fill:'#ffa500',stroke:'none'},g);
    
    
    mk('path',{d:d,fill:'none',stroke:'#111','stroke-width':3},g);}
  if(c.side){const [ys,ws,base,wmax]=c.side;const pts=ys.map((y,i)=>[base+ws[i]*wmax,sy(y)]);
    const d=smooth(pts);
    const fillP=mk('path',{d:d+` L${base},${pts[pts.length-1][1]} L${base},${pts[0][1]} Z`,fill:'#0000ff',stroke:'none'},g);
    
    
    mk('path',{d:d,fill:'none',stroke:'#111','stroke-width':3},g);}
  return g;
}
function annot(x,y,parts,size){const t=mk('text',{x:x,y:y,'font-size':size,fill:'#222'});
  
  
  for(const [s,it] of parts){const sp=mk('tspan',it?{'font-style':'italic'}:{},t);sp.textContent=s;}}
function letter(x,y,s){const t=mk('text',{x:x,y:y,'font-size':42,fill:'#111'});t.textContent=s;
  
  }

const big={r:7.5,ptCol:'#000',ptOp:1,lw:6,tfs:30,tt:32};
panel(Object.assign({},big,{name:'panel-a',box:[150,141,880,798],xs:[0,401,1000,551],ys:[1,723,5,230],xt:ticksAx,yt:ticksAy,pts:ptsA,fit:fitA,band:bandA,xtlY:838,xfmt:v=>fmt(v,0),xtitle:['Immune score',540,878],ytitle:['LTBP2 expression',98],top:[denAtopX,denAtopH,135,122],side:[denAsideY,denAsideW,889,134]}));
panel(Object.assign({},big,{name:'panel-b',box:[1203,158,1902,782],xs:[-1000,1390,1000,1737],ys:[2,617,6,203],xt:ticksBx,yt:ticksBy,pts:ptsB,fit:fitB,band:bandB,xtlY:828,xfmt:v=>fmt(v,0),xtitle:['Stromal score',1576,866],ytitle:['LTBP2 expression',1157],top:[denBtopX,denBtopH,150,112],side:[denBsideY,denBsideW,1907,150]}));
panel(Object.assign({},big,{name:'panel-c',box:[167,1072,832,1672],xs:[0.1,295,0.4,764],ys:[1,1638,5,1155],xt:ticksCx,yt:ticksCy,pts:ptsC,fit:fitC,band:bandC,xtlY:1711,xfmt:v=>v.toFixed(1),xtitle:['T cells CD4 memory resting',525,1753],ytitle:['LTBP2 expression',100],top:[denCtopX,denCtopH,1065,108],side:[denCsideY,denCsideW,842,121]}));
panel(Object.assign({},big,{name:'panel-d',box:[1215,1077,1865,1659],xs:[0,1242,0.1,1727],ys:[1,1626,5,1158],xt:ticksDx,yt:ticksDy,pts:ptsD,fit:fitD,band:bandD,xtlY:1701,xfmt:v=>v.toFixed(3),xtitle:['T cells follicular helper',1564,1747],ytitle:['LTBP2 expression',1153],border:'#222',bw:3.5,top:[denDtopX,denDtopH,1072,106],side:[denDsideY,denDsideW,1870,118]}));

annot(183,200,[['R',1],[' = 0.5, ',0],['p',1],[' < 2.2e\u221216',0]],26);
annot(1232,285,[['R',1],[' = 0.75, ',0],['p',1],[' < 2.2e\u221216',0]],26);
annot(200,1128,[['R',1],[' = 0.49, ',0],['p',1],[' < 2.2e\u221216',0]],26);
annot(1253,1108,[['R',1],[' =-0.24 , ',0],['p',1],[' = 6e\u221206',0]],26);
letter(24,75,'A');letter(1108,72,'B');letter(22,1047,'C');letter(1110,1050,'D');letter(22,1830,'E');

const small={r:5.5,ptCol:'#333',ptOp:0.7,lw:3.5,tfs:29,tt:32,xtlY:2302};
const eDefs=[
 ['panel-e-purity',[102,1871,520,2261],[0.25,201,1.0,505],[2,2166,6,1915],ticksE1x,ptsE1,fitE1,bandE1,v=>v.toFixed(2),'Purity','Purity',['rho = \u22120.337','p = 1.68e\u221212']],
 ['panel-e-pd1',[604,1871,1023,2261],[0,620,3,935],[2,2166,6,1915],ticksE2x,ptsE2,fitE2,bandE2,v=>String(v),'Expression level','PD-1',['partial.rho = 0.284','p = 3.79e\u221209']],
 ['panel-e-ctla4',[1101,1871,1520,2262],[0,1120,5,1485],[2,2167,6,1923],ticksE3x,ptsE3,fitE3,bandE3,v=>String(v),'Expression level','CTLA4',['partial.rho = 0.283','p = 3.97e\u221209']],
 ['panel-e-pdl1',[1597,1871,2012,2256],[0,1616,3,1937],[2,2175,6,1971],ticksE4x,ptsE4,fitE4,bandE4,v=>String(v),'Expression level','PD-L1',['partial.rho = 0.551','p = 2.24e\u221234']]
];
for(const e of eDefs){
  const [name,box,xs,ys,xt,pts,fit,band,xf,xtl,strip,red]=e;
  panel(Object.assign({},small,{name:name,box:box,xs:xs,ys:ys,xt:xt,yt:ticksEy,pts:pts,fit:fit,band:band,xfmt:xf,xtitle:[xtl,(box[0]+box[2])/2,2343]}));
  const s=mk('rect',{x:box[0],y:1829,width:box[2]-box[0],height:42,fill:'#d9d9d9',stroke:'#333','stroke-width':2});
  
  
  const st=mk('text',{x:(box[0]+box[2])/2,y:1858,'text-anchor':'middle','font-size':21,fill:'#1a1a1a'});st.textContent=strip;
  
  
  red.forEach((r,i)=>{const t=mk('text',{x:box[2]-2,y:1892+i*20,'text-anchor':'end','font-size':19,fill:'#ff2a2a'});t.textContent=r;
    
    });
}
const ey=mk('text',{x:0,y:0,'text-anchor':'middle','font-size':32,fill:'#111',transform:'translate(46,2045) rotate(-90)'});ey.textContent='LTBP2 expression level';


</script>
</body></html>
